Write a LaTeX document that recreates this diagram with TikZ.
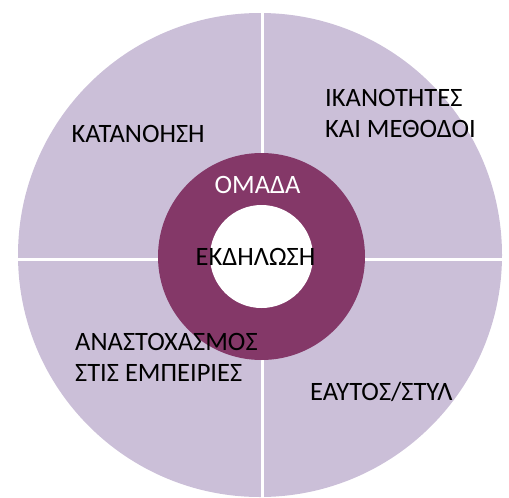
\documentclass[tikz,border=0pt]{standalone}
\usepackage{fontspec}
\setmainfont{Carlito}
\definecolor{segfill}{RGB}{203,191,216}
\definecolor{ringfill}{RGB}{132,56,104}
\begin{document}
\begin{tikzpicture}[x=1pt,y=-1pt,
  lbl/.style={inner sep=0pt,anchor=base west,font=\fontsize{26.5}{31.2}\selectfont,align=left},
  divider/.style={draw=white,line width=3pt}]
\useasboundingbox (0,0) rectangle (509,498);
% outer disc
\fill[segfill] (260,255) circle[radius=242pt];
% quadrant dividers
\coordinate (vt) at (262,0);
\coordinate (vb) at (262,498);
\coordinate (hl) at (0,259.5);
\coordinate (hr) at (509,259.5);
\draw[divider] (vt) -- (vb);
\draw[divider] (hl) -- (hr);
% central ring
\fill[ringfill] (261.5,256.5) circle[radius=103.5pt];
\fill[white] (261.5,256.5) circle[radius=51.5pt];
% labels
\node[lbl] (kat) at (71.5,142.3) {ΚΑΤΑΝΟΗΣΗ};
\node[lbl] (ika) at (325,137.3) {ΙΚΑΝΟΤΗΤΕΣ\\ΚΑΙ ΜΕΘΟΔΟΙ};
\node[lbl] (ana) at (75,381.7) {ΑΝΑΣΤΟΧΑΣΜΟΣ\\ΣΤΙΣ ΕΜΠΕΙΡΙΕΣ};
\node[lbl] (eay) at (310,400.7) {ΕΑΥΤΟΣ/ΣΤΥΛ};
\node[lbl,anchor=base,text=white] (oma) at (257.5,193.3) {ΟΜΑΔΑ};
\node[lbl,anchor=base] (ekd) at (255.5,265) {ΕΚΔΗΛΩΣΗ};
\end{tikzpicture}
\end{document}
